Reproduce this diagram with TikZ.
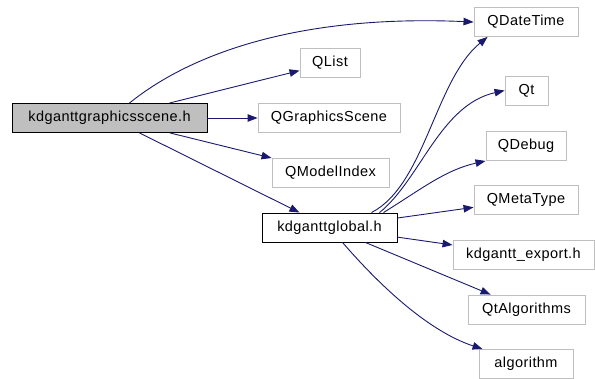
\documentclass[tikz,border=0pt]{standalone}
\usepackage{fontspec}
\setmainfont[LetterSpace=3]{Liberation Sans}
\usetikzlibrary{arrows.meta}
\definecolor{edgeblue}{HTML}{191970}
\definecolor{boxgray}{HTML}{BFBFBF}
\begin{document}
\begin{tikzpicture}[x=1pt, y=-1pt, every node/.style={font=\fontsize{14.5}{17}\selectfont},
  hdr/.style={draw=boxgray, line width=0.9pt, minimum height=29pt, inner sep=0pt},
  cur/.style={draw=black, line width=0.9pt, minimum height=29pt, inner sep=0pt},
  dep/.style={draw=edgeblue, line width=0.9pt, -{Triangle[length=10pt, width=7.5pt]}}]
  \useasboundingbox (0,0) rectangle (595,378);
  \node[cur, fill=boxgray, minimum width=195pt] (scene) at (109.5,118) {kdganttgraphicsscene.h};
  \node[hdr, minimum width=104pt] (qdatetime) at (526,22) {QDateTime};
  \node[hdr, minimum width=60pt] (qlist) at (330,63) {QList};
  \node[hdr, minimum width=142pt] (qgscene) at (329,118) {QGraphicsScene};
  \node[hdr, minimum width=117pt] (qmodelindex) at (330.5,172.5) {QModelIndex};
  \node[cur, minimum width=135pt] (global) at (329.5,227.5) {kdganttglobal.h};
  \node[hdr, minimum width=43pt] (qt) at (526.5,90.5) {Qt};
  \node[hdr, minimum width=80pt] (qdebug) at (526,146) {QDebug};
  \node[hdr, minimum width=104pt] (qmetatype) at (526,200) {QMetaType};
  \node[hdr, minimum width=141pt] (export) at (523.5,255) {kdgantt\_export.h};
  \node[hdr, minimum width=117pt] (qtalgorithms) at (526.5,309.5) {QtAlgorithms};
  \node[hdr, minimum width=94pt] (algorithm) at (526,364) {algorithm};
  % includes of kdganttgraphicsscene.h
  \draw[dep] ([xshift=20pt]scene.north) .. controls (185,58) and (290,14) .. (qdatetime.west);
  \draw[dep] (scene) -- (qlist);
  \draw[dep] (scene) -- (qgscene);
  \draw[dep] (scene) -- (qmodelindex);
  \draw[dep] (scene) -- (global);
  % includes of kdganttglobal.h
  \draw[dep] ([xshift=42pt]global.north) .. controls (425,185) and (435,80) .. ([xshift=14pt]qdatetime.south west);
  \draw[dep] ([xshift=50pt]global.north) .. controls (420,180) and (440,105) .. (qt.west);
  \draw[dep] ([xshift=54pt]global.north) .. controls (420,190) and (445,170) .. (qdebug.south west);
  \draw[dep] (global) -- (qmetatype);
  \draw[dep] (global) -- (export);
  \draw[dep] (global) -- (qtalgorithms);
  \draw[dep] ([xshift=13pt]global.south) .. controls (375,280) and (425,330) .. ([xshift=4pt]algorithm.north west);
\end{tikzpicture}
\end{document}
